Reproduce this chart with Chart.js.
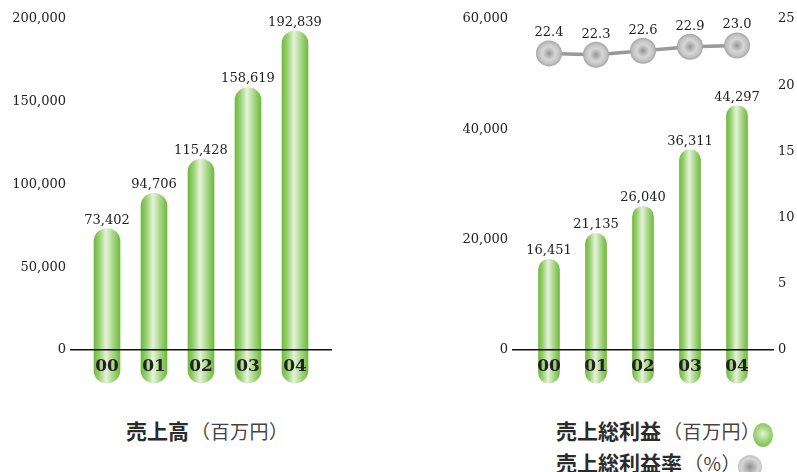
<!DOCTYPE html>
<html>
<head>
<meta charset="utf-8">
<script src="https://cdn.jsdelivr.net/npm/chart.js@4"></script>
<style>
  body { margin: 0; width: 797px; height: 472px; background: #fff; position: relative; overflow: hidden; }
  canvas { position: absolute; top: 0; }
  #salesChart { left: 0; }
  #profitChart { left: 400px; }
  .caption { position: absolute; font-family: "Noto Sans CJK JP", sans-serif; color: #2b2b2b; white-space: nowrap; line-height: 30px; }
  .caption b { font-size: 21px; font-weight: 700; }
  .caption span { font-size: 19px; letter-spacing: 0.5px; margin-left: 2px; color: #444; }
  .dot { display: inline-block; vertical-align: middle; }
  .dot.green { width: 20px; height: 24px; border-radius: 50%; margin-left: -8px; background: radial-gradient(circle at 50% 45%, #e2f3d6 0%, #9ed479 45%, #6cb93b 100%); }
  .dot.gray { width: 24px; height: 24px; border-radius: 50%; margin-left: -3px; background: radial-gradient(circle, #8f8f8f 0%, #d6d6d6 50%, #bdbdbd 80%, #a3a3a3 100%); }
</style>
</head>
<body>
<canvas id="salesChart" width="400" height="400"></canvas>
<canvas id="profitChart" width="397" height="400"></canvas>
<div class="caption" style="left:126px; top:415px;"><b>売上高</b><span>（百万円）</span></div>
<div class="caption" style="left:556px; top:415px;"><b>売上総利益</b><span>（百万円）</span><i class="dot green"></i></div>
<div class="caption" style="left:556px; top:447px;"><b>売上総利益率</b><span>（%）</span><i class="dot gray"></i></div>
<script>
const years = ['00', '01', '02', '03', '04'];
const sales = [73402, 94706, 115428, 158619, 192839];
const grossProfit = [16451, 21135, 26040, 36311, 44297];
const grossMargin = [22.4, 22.3, 22.6, 22.9, 23.0];
const salesTicks = [0, 50000, 100000, 150000, 200000];
const profitTicks = [0, 20000, 40000, 60000];
const marginTicks = [0, 5, 10, 15, 20, 25];

const serif = '"DejaVu Serif", serif';
const indexes = years.map((_, i) => i);

function barGradient(width) {
  return ctx => {
    const chart = ctx.chart;
    if (ctx.type !== 'data' || !chart.chartArea) return '#78be45';
    const x = chart.scales.x.getPixelForValue(ctx.dataIndex);
    const g = chart.ctx.createLinearGradient(x - width / 2, 0, x + width / 2, 0);
    g.addColorStop(0, '#70ba3c');
    g.addColorStop(0.2, '#98cf72');
    g.addColorStop(0.46, '#e6f3da');
    g.addColorStop(0.8, '#98cf72');
    g.addColorStop(1, '#70ba3c');
    return g;
  };
}

function markerGradient(ctx) {
  const chart = ctx.chart;
  if (ctx.type !== 'data' || !chart.chartArea) return '#bbb';
  const x = chart.scales.x.getPixelForValue(ctx.dataIndex);
  const y = chart.scales.y1.getPixelForValue(grossMargin[ctx.dataIndex]);
  const g = chart.ctx.createRadialGradient(x, y, 0, x, y, 13);
  g.addColorStop(0, '#959595');
  g.addColorStop(0.5, '#d6d6d6');
  g.addColorStop(0.8, '#c2c2c2');
  g.addColorStop(1, '#a5a5a5');
  return g;
}

// value labels above bars and markers
const valueLabels = {
  id: 'valueLabels',
  afterDatasetsDraw(chart) {
    const c = chart.ctx;
    c.save();
    c.font = '13px ' + serif;
    c.fillStyle = '#222';
    c.textAlign = 'center';
    c.textBaseline = 'alphabetic';
    chart.data.datasets.forEach((ds, di) => {
      const meta = chart.getDatasetMeta(di);
      meta.data.forEach((el, i) => {
        const v = ds.data[i];
        if (meta.type === 'line') {
          c.fillText(v.toFixed(1), el.x, el.y - 17);
        } else {
          c.fillText(v.toLocaleString('en-US'), el.x, el.y - 5);
        }
      });
    });
    c.restore();
  }
};

function xScale() {
  return {
    type: 'linear',
    min: -0.766,
    max: 4.766,
    offset: false,
    afterFit: s => { s.height = 50; },
    afterBuildTicks: s => { s.ticks = indexes.map(v => ({ value: v })); },
    grid: { display: false, drawTicks: false, offset: false },
    border: { display: true, color: '#111', width: 1.5, z: 1 },
    ticks: {
      z: 1,
      padding: 6,
      color: '#222',
      font: { family: serif, size: 17, weight: 'bold' },
      callback: v => years[v]
    }
  };
}

function valueScale(ticks, width, position) {
  return {
    position,
    min: 0,
    max: ticks[ticks.length - 1],
    afterFit: s => { s.width = width; },
    afterBuildTicks: s => { s.ticks = ticks.map(v => ({ value: v })); },
    grid: { display: false, drawTicks: false },
    border: { display: false },
    ticks: {
      padding: 5,
      color: '#222',
      font: { family: serif, size: 13 },
      callback: v => v.toLocaleString('en-US')
    }
  };
}

new Chart(document.getElementById('salesChart'), {
  type: 'bar',
  data: {
    labels: indexes,
    datasets: [{
      label: '売上高',
      data: sales,
      base: -20000,
      clip: false,
      barThickness: 26,
      borderRadius: 13,
      borderSkipped: false,
      backgroundColor: barGradient(26)
    }]
  },
  options: {
    responsive: false,
    animation: false,
    layout: { padding: { top: 19, right: 69, left: 0, bottom: 0 } },
    plugins: { legend: { display: false }, tooltip: { enabled: false } },
    scales: {
      x: xScale(),
      y: valueScale(salesTicks, 71, 'left')
    }
  },
  plugins: [valueLabels]
});

new Chart(document.getElementById('profitChart'), {
  type: 'bar',
  data: {
    labels: indexes,
    datasets: [{
      type: 'line',
      label: '売上総利益率',
      data: grossMargin,
      yAxisID: 'y1',
      clip: false,
      borderColor: '#999',
      borderWidth: 3.5,
      pointRadius: 13,
      pointBorderWidth: 0,
      pointBackgroundColor: markerGradient
    }, {
      label: '売上総利益',
      data: grossProfit,
      yAxisID: 'y',
      base: -6000,
      clip: false,
      barThickness: 21,
      borderRadius: 10.5,
      borderSkipped: false,
      backgroundColor: barGradient(21)
    }]
  },
  options: {
    responsive: false,
    animation: false,
    layout: { padding: { top: 19, right: 0, left: 0, bottom: 0 } },
    plugins: { legend: { display: false }, tooltip: { enabled: false } },
    scales: {
      x: xScale(),
      y: valueScale(profitTicks, 113, 'left'),
      y1: valueScale(marginTicks, 24, 'right')
    }
  },
  plugins: [valueLabels]
});
</script>
</body>
</html>
